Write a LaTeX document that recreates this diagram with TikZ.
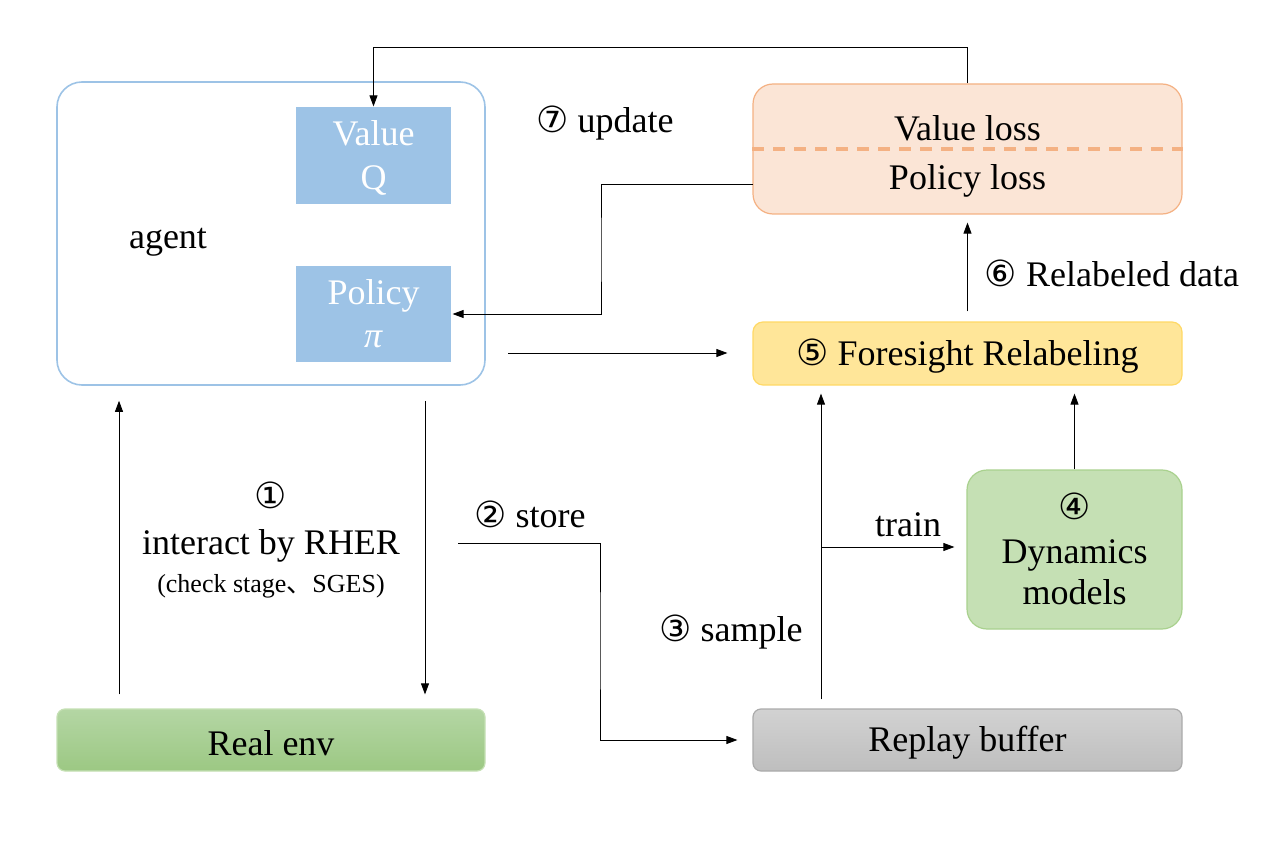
\documentclass[tikz,border=0pt]{standalone}
\usepackage{fontspec}
\setmainfont{Liberation Serif}
\newfontfamily\symfont{DejaVu Sans}
\newfontfamily\cjkfont{Noto Sans CJK SC}
\usetikzlibrary{arrows.meta}
\usetikzlibrary{positioning}

\definecolor{agentBlue}{HTML}{9DC3E6}
\definecolor{lossFill}{HTML}{FBE5D6}
\definecolor{lossLine}{HTML}{F4B183}
\definecolor{relabFill}{HTML}{FFE699}
\definecolor{relabLine}{HTML}{FFD966}
\definecolor{dynFill}{HTML}{C5E0B4}
\definecolor{dynLine}{HTML}{A9D18E}
\definecolor{envTop}{HTML}{B4D6A4}
\definecolor{envBottom}{HTML}{9CC883}
\definecolor{bufTop}{HTML}{D2D2D2}
\definecolor{bufBottom}{HTML}{BEBEBE}

\newcommand{\circNum}[1]{{\symfont #1}}
\newcommand{\smallSize}{\fontsize{26}{30}\selectfont}

\tikzset{
	bigText/.style={font=\fontsize{36}{40}\selectfont},
	blockBox/.style={bigText, align=center, inner sep=0pt, line width=1.2pt},
	netBox/.style={blockBox, fill=agentBlue, text=white},
	arrowLine/.style={line width=0.8pt, -{Triangle[length=11pt,width=8pt]}},
	plainLine/.style={line width=0.8pt}
}

\begin{document}
\begin{tikzpicture}[x=1pt, y=-1pt]
		\useasboundingbox (0,0) rectangle (1286,845);

		% Agent with its two networks
		\node[blockBox, draw=agentBlue, line width=1.6pt, rounded corners=25pt, minimum width=428, minimum height=303] (agent) at (271,233.5) {};
		\node[bigText] (agentLabel) at (168,242) {agent};
		\node[netBox, minimum width=155, minimum height=97] (valueQ) at (373.5,155.5) {};
		\node[bigText, align=center, text=white] (valueText) at (373.5,158) {Value\\[4pt]Q};
		\node[netBox, minimum width=155, minimum height=96] (policyPi) at (373.5,314) {Policy\\[3pt]\textit{π}};

		% Losses
		\node[blockBox, draw=lossLine, fill=lossFill, rounded corners=20pt, minimum width=429, minimum height=130] (loss) at (967.5,149) {};
		\draw[lossLine, line width=3.2pt, dash pattern=on 12pt off 9pt] (loss.west) -- (loss.east);
		\node[bigText] (valueLoss) at (967.5,128) {Value loss};
		\node[bigText] (policyLoss) at (967.5,181) {Policy loss};

		% Relabeling and models
		\node[blockBox, draw=relabLine, fill=relabFill, rounded corners=10pt, minimum width=429, minimum height=63] (relabel) at (967.5,353.5) {};
		\node[bigText] (relabText) at (967.5,356) {\circNum{⑤} Foresight Relabeling};
		\node[blockBox, draw=dynLine, fill=dynFill, rounded corners=20pt, minimum width=215, minimum height=159] (dynamics) at (1074.5,549.5) {};
		\node[bigText, align=center] (dynText) at (1074.5,549) {\circNum{④}\\[4pt]Dynamics\\[1pt]models};

		% Environment and buffer
		\node[blockBox, draw=dynFill, top color=envTop, bottom color=envBottom, rounded corners=8pt, minimum width=428, minimum height=62] (realEnv) at (271,740) {};
		\node[bigText] (envText) at (271,743) {Real env};
		\node[blockBox, draw=black!33, top color=bufTop, bottom color=bufBottom, rounded corners=8pt, minimum width=429, minimum height=62] (replay) at (967.5,740) {};
		\node[bigText] (bufText) at (967.5,743) {Replay buffer};

		% Corner and start points
		\coordinate (updTop) at (968,47);
		\coordinate (lossOut) at (753,184);
		\coordinate (lossBend) at (601,250);
		\coordinate (agentOut) at (508,353);
		\coordinate (trainFork) at (821,547);
		\coordinate (storeStart) at (458,543);
		\coordinate (storeBend) at (600,640);

		% Connectors
		\draw[arrowLine] (loss.north) -- (loss.north |- updTop) -| (valueQ.north);
		\draw[arrowLine, shorten >=1pt] (lossOut) -| (lossBend) |- (policyPi.east);
		\draw[arrowLine, shorten >=25pt] (agentOut) -- (agentOut -| relabel.west);
		\draw[arrowLine, shorten <=10pt, shorten >=8pt] (relabel.north) -- (loss.south);
		\draw[arrowLine, shorten <=9pt, shorten >=8pt] (replay.north -| trainFork) -- (relabel.south -| trainFork);
		\draw[arrowLine, shorten >=12pt] (trainFork) -- (trainFork -| dynamics.west);
		\draw[arrowLine, shorten >=8pt] (dynamics.north) -- (relabel.south -| dynamics.north);
		\draw[arrowLine, shorten <=15pt, shorten >=14pt] ([xshift=154]agent.south) -- ([xshift=154]realEnv.north);
		\draw[arrowLine, shorten <=14pt, shorten >=15pt] ([xshift=-152]realEnv.north) -- ([xshift=-152]agent.south);
		\draw[arrowLine, shorten >=15pt] (storeStart) -| (storeBend) |- (replay.west);

		% Labels
		\node[bigText] (updateLabel) at (605,123) {\circNum{⑦} update};
		\node[bigText] (relabLabel) at (1112,273) {\circNum{⑥} Relabeled data};
		\node[bigText] (sampleLabel) at (731,632) {\circNum{③} sample};
		\node[bigText] (trainLabel) at (908,525) {train};
		\node[bigText] (storeLabel) at (530,514) {\circNum{②} store};
		\node[bigText, align=center] (interactLabel) at (271,540) {\circNum{①}\\[6pt]interact by RHER\\[-2pt]{\smallSize (check stage{\cjkfont 、}SGES)}};
\end{tikzpicture}
\end{document}
